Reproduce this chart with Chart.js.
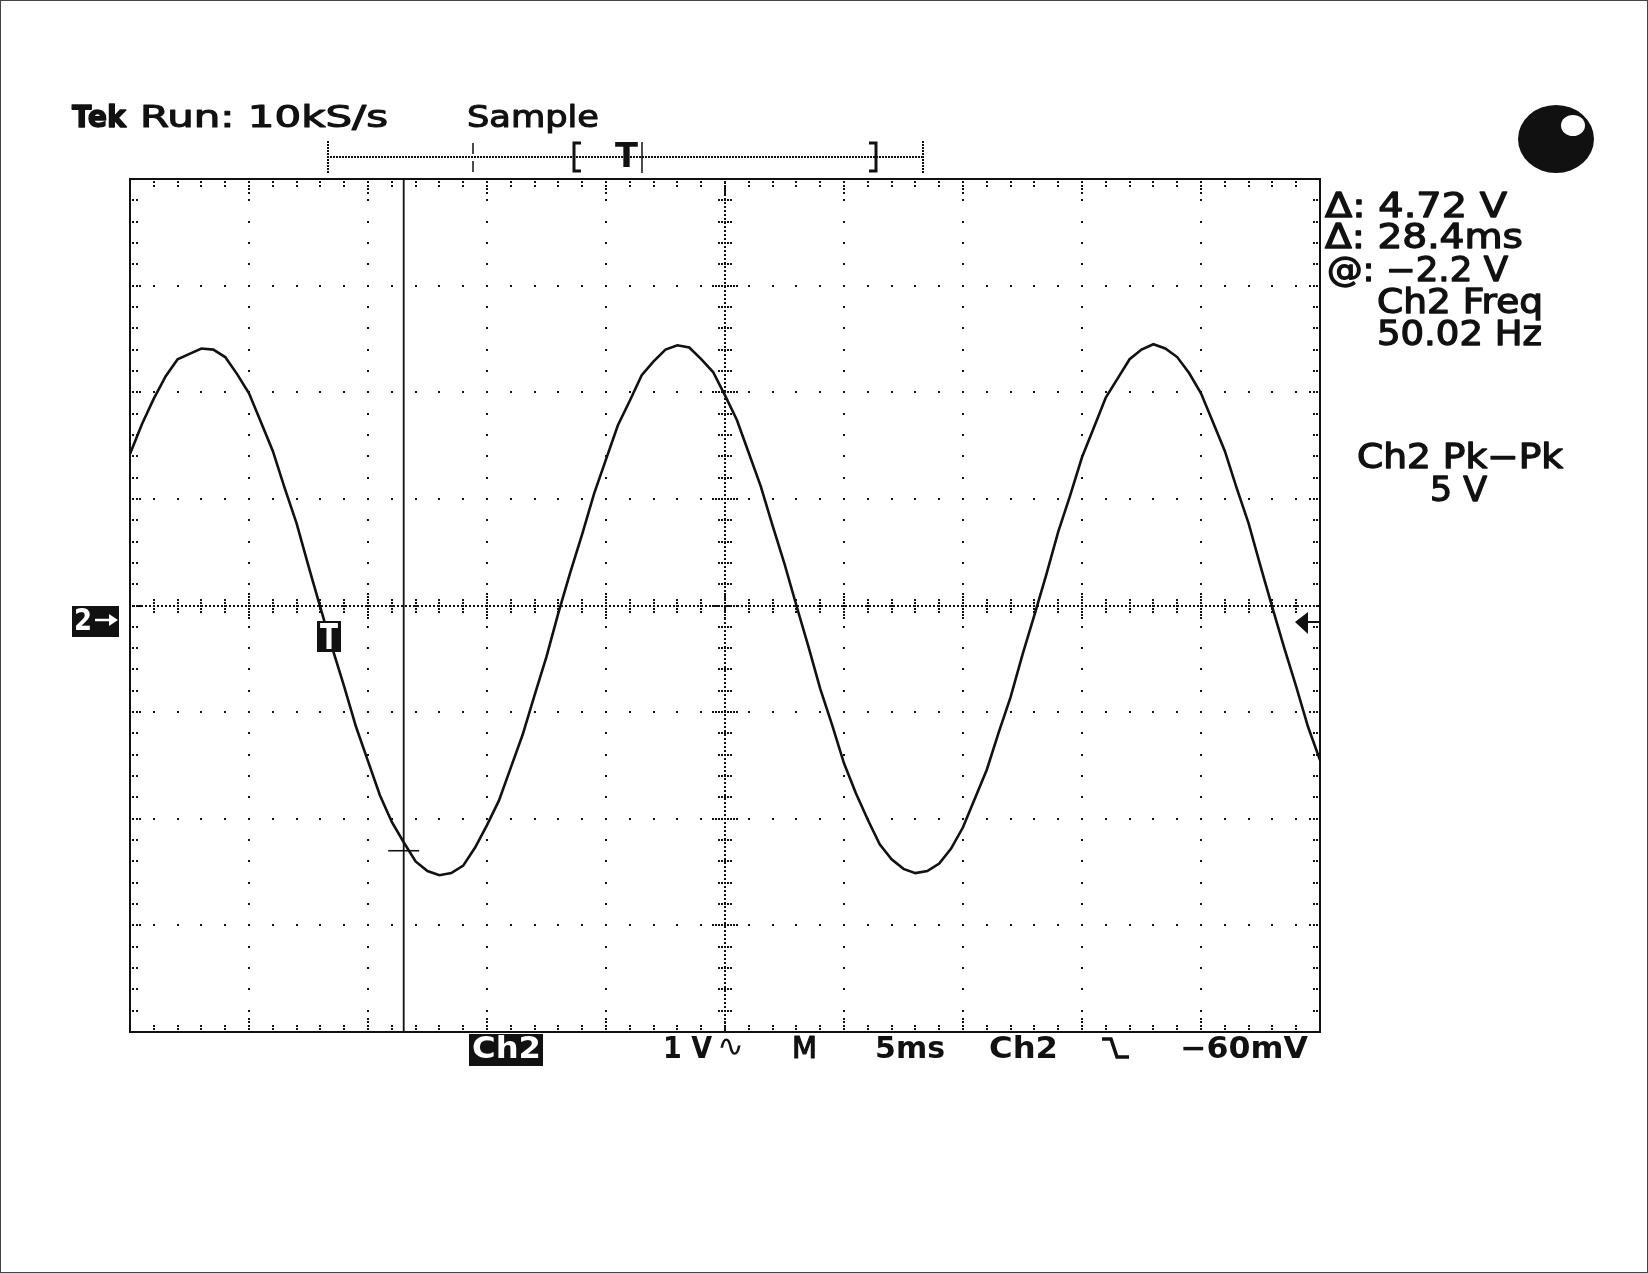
<!DOCTYPE html>
<html lang="en">
<head>
<meta charset="UTF-8">
<title>Tek Ch2 capture</title>
<script src="https://cdn.jsdelivr.net/npm/chart.js"></script>
<style>
  html, body { margin: 0; padding: 0; background: #fff; }
  canvas { display: block; }
</style>
</head>
<body>
<canvas id="scope" width="1648" height="1273"></canvas>
<script>
// sample times in ms (0.5 ms apart, 10 divisions of 5 ms)
var timeMs = [
  0, 0.5, 1, 1.5, 2, 2.5, 3, 3.5, 4, 4.5, 5, 5.5, 6, 6.5, 7, 7.5, 8, 8.5, 9, 9.5,
  10, 10.5, 11, 11.5, 12, 12.5, 13, 13.5, 14, 14.5, 15, 15.5, 16, 16.5, 17, 17.5, 18, 18.5, 19, 19.5,
  20, 20.5, 21, 21.5, 22, 22.5, 23, 23.5, 24, 24.5, 25, 25.5, 26, 26.5, 27, 27.5, 28, 28.5, 29, 29.5,
  30, 30.5, 31, 31.5, 32, 32.5, 33, 33.5, 34, 34.5, 35, 35.5, 36, 36.5, 37, 37.5, 38, 38.5, 39, 39.5,
  40, 40.5, 41, 41.5, 42, 42.5, 43, 43.5, 44, 44.5, 45, 45.5, 46, 46.5, 47, 47.5, 48, 48.5, 49, 49.5,
  50
];

// Ch2 volts
var ch2Volts = [
  1.42, 1.70, 1.94, 2.15, 2.31, 2.36, 2.41, 2.40, 2.33, 2.17, 1.99, 1.72, 1.45, 1.10, 0.77, 0.37, -0.02, -0.40, -0.76, -1.14,
  -1.46, -1.78, -2.03, -2.22, -2.40, -2.49, -2.53, -2.51, -2.44, -2.27, -2.06, -1.83, -1.52, -1.21, -0.84, -0.48, -0.07, 0.31, 0.67, 1.05,
  1.37, 1.69, 1.92, 2.16, 2.29, 2.40, 2.44, 2.42, 2.31, 2.19, 1.97, 1.74, 1.43, 1.12, 0.75, 0.39, 0.00, -0.38, -0.78, -1.12,
  -1.48, -1.76, -2.01, -2.24, -2.38, -2.47, -2.51, -2.49, -2.42, -2.28, -2.08, -1.81, -1.54, -1.19, -0.86, -0.46, -0.09, 0.29, 0.69, 1.03,
  1.39, 1.67, 1.95, 2.13, 2.31, 2.40, 2.45, 2.41, 2.33, 2.18, 1.99, 1.72, 1.45, 1.10, 0.77, 0.37, -0.02, -0.40, -0.76, -1.14,
  -1.45
];

// vertical cursor and its crossing mark
var cursorTimeMs = 11.5;
var cursorVolts = -2.3;
var cursorMarkMs = [10.85, 12.15];

// screen scale
var msPerDiv = 5;
var voltsPerDiv = 1;
var divsX = 10;
var divsY = 8;
var minorPerDiv = 5;

// readouts
var headerText = ['Tek', 'Run: 10kS/s', 'Sample'];
var readouts = ['Δ: 4.72 V', 'Δ: 28.4ms', '@: −2.2 V', 'Ch2 Freq', '50.02 Hz', 'Ch2 Pk−Pk', '5 V'];
var footer = ['Ch2', '1 V', '∿', 'M', '5ms', 'Ch2', '−60mV'];

var INK = '#111';

// draws text squeezed/stretched to span x0..x1; stroke thickens normal weight
function fitText(ctx, txt, x0, x1, base, size, weight, color, stroke) {
    ctx.save();
    ctx.font = weight + ' ' + size + 'px "DejaVu Sans", sans-serif';
    ctx.fillStyle = color || INK;
    ctx.strokeStyle = color || INK;
    ctx.textBaseline = 'alphabetic';
    var w = ctx.measureText(txt).width;
    ctx.translate(x0, base);
    ctx.scale((x1 - x0) / w, 1);
    ctx.fillText(txt, 0, 0);
    if (stroke) {
        ctx.lineWidth = stroke;
        ctx.lineJoin = 'round';
        ctx.strokeText(txt, 0, 0);
    }
    ctx.restore();
}

function dot(ctx, x, y) {
    ctx.fillRect(Math.round(x) - 1, Math.round(y) - 1, 2, 2);
}

// the dotted graticule, drawn from the chart's own scales
var graticule = {
    id: 'graticule',
    beforeDatasetsDraw: function(chart) {
        var ctx = chart.ctx;
        var xs = chart.scales.x, ys = chart.scales.y;
        var a = chart.chartArea;
        var tMax = divsX * msPerDiv, vMax = divsY / 2 * voltsPerDiv;
        var tStep = msPerDiv / minorPerDiv, vStep = voltsPerDiv / minorPerDiv;
        var tCenter = tMax / 2;
        ctx.save();
        ctx.fillStyle = INK;

        // interior major lines, one dot per minor step
        for (var i = 1; i < divsX; i++) {
            var t = i * msPerDiv;
            if (t === tCenter) continue;
            var px = xs.getPixelForValue(t);
            for (var j = 0; j <= divsY * minorPerDiv; j++) {
                dot(ctx, px, ys.getPixelForValue(-vMax + j * vStep));
            }
        }
        for (var i = 1; i < divsY; i++) {
            var v = -vMax + i * voltsPerDiv;
            if (v === 0) continue;
            var py = ys.getPixelForValue(v);
            for (var j = 0; j <= divsX * minorPerDiv; j++) {
                dot(ctx, xs.getPixelForValue(j * tStep), py);
            }
        }

        // centre cross: dense dots plus minor ticks
        var cy = ys.getPixelForValue(0), cx = xs.getPixelForValue(tCenter);
        for (var x = a.left; x <= a.right; x += 4) dot(ctx, x, cy);
        for (var y = a.top; y <= a.bottom; y += 4) dot(ctx, cx, y);
        for (var j = 0; j <= divsX * minorPerDiv; j++) {
            var px = xs.getPixelForValue(j * tStep);
            var len = (j % minorPerDiv === 0) ? 12 : 6;
            for (var d = -len; d <= len; d += 3) dot(ctx, px, cy + d);
        }
        for (var j = 0; j <= divsY * minorPerDiv; j++) {
            var py = ys.getPixelForValue(-vMax + j * vStep);
            var len = (j % minorPerDiv === 0) ? 12 : 6;
            for (var d = -len; d <= len; d += 3) dot(ctx, cx + d, py);
        }

        // ticks just inside the frame
        for (var j = 0; j <= divsX * minorPerDiv; j++) {
            var px = xs.getPixelForValue(j * tStep);
            var n = (j % minorPerDiv === 0) ? 4 : 2;
            for (var k = 0; k < n; k++) {
                dot(ctx, px, a.top + 3 + k * 3.5);
                dot(ctx, px, a.bottom - 3 - k * 3.5);
            }
        }
        for (var j = 0; j <= divsY * minorPerDiv; j++) {
            var py = ys.getPixelForValue(-vMax + j * vStep);
            var n = (j % minorPerDiv === 0) ? 3 : 2;
            for (var k = 0; k < n; k++) {
                dot(ctx, a.left + 3 + k * 3.5, py);
                dot(ctx, a.right - 3 - k * 3.5, py);
            }
        }

        ctx.lineWidth = 2;
        ctx.strokeStyle = INK;
        ctx.strokeRect(a.left, a.top, a.right - a.left, a.bottom - a.top);
        ctx.restore();
    }
};

// scope readouts and markers around the screen
var readoutLayer = {
    id: 'readouts',
    afterDraw: function(chart) {
        var ctx = chart.ctx;
        var W = chart.width, H = chart.height;
        ctx.save();

        // outer picture border
        ctx.strokeStyle = '#444';
        ctx.lineWidth = 1;
        ctx.strokeRect(0.5, 0.5, W - 1, H - 1);

        // header
        fitText(ctx, headerText[0], 72, 126, 127, 31, 'bold', INK, 1.4);
        fitText(ctx, headerText[1], 140, 388, 127, 30, 'normal', INK, 1.1);
        fitText(ctx, headerText[2], 467, 599, 127, 30, 'normal', INK, 1.1);

        // record position bar
        ctx.fillStyle = INK;
        for (var x = 328; x <= 923; x += 3) dot(ctx, x, 157);
        for (var y = 142; y <= 173; y += 3) { dot(ctx, 328, y); dot(ctx, 923, y); }
        ctx.strokeStyle = INK;
        ctx.lineWidth = 1.5;
        ctx.beginPath();
        ctx.moveTo(473, 143); ctx.lineTo(473, 154);
        ctx.moveTo(473, 161); ctx.lineTo(473, 172);
        ctx.moveTo(642, 142); ctx.lineTo(642, 173);
        ctx.stroke();
        ctx.lineWidth = 3;
        ctx.beginPath();
        ctx.moveTo(581, 143); ctx.lineTo(574, 143); ctx.lineTo(574, 171); ctx.lineTo(581, 171);
        ctx.moveTo(869, 143); ctx.lineTo(876, 143); ctx.lineTo(876, 171); ctx.lineTo(869, 171);
        ctx.stroke();
        fitText(ctx, 'T', 615, 638, 167, 33, 'bold');

        // scope logo
        ctx.fillStyle = INK;
        ctx.beginPath();
        ctx.ellipse(1556, 139, 38, 34, 0, 0, Math.PI * 2);
        ctx.fill();
        ctx.fillStyle = '#fff';
        ctx.beginPath();
        ctx.ellipse(1573, 125.5, 12, 10.5, 0, 0, Math.PI * 2);
        ctx.fill();

        // measurement readouts
        fitText(ctx, readouts[0], 1325, 1507, 217, 33, 'normal', INK, 1.3);
        fitText(ctx, readouts[1], 1325, 1523, 248, 33, 'normal', INK, 1.3);
        fitText(ctx, readouts[2], 1327, 1508, 281, 33, 'normal', INK, 1.3);
        fitText(ctx, readouts[3], 1377, 1543, 313, 33, 'normal', INK, 1.3);
        fitText(ctx, readouts[4], 1377, 1542, 345, 33, 'normal', INK, 1.3);
        fitText(ctx, readouts[5], 1357, 1563, 468, 33, 'normal', INK, 1.3);
        fitText(ctx, readouts[6], 1430, 1487, 501, 33, 'normal', INK, 1.3);

        // footer
        ctx.fillStyle = INK;
        ctx.fillRect(469, 1034, 74, 32);
        fitText(ctx, footer[0], 472, 541, 1058, 30, 'bold', '#fff');
        fitText(ctx, footer[1], 663, 712, 1058, 30, 'bold');
        fitText(ctx, footer[2], 717, 744, 1056, 30, 'normal');
        fitText(ctx, footer[3], 792, 817, 1058, 30, 'normal', INK, 1.2);
        fitText(ctx, footer[4], 875, 945, 1058, 30, 'bold');
        fitText(ctx, footer[5], 989, 1058, 1058, 30, 'bold');
        ctx.strokeStyle = INK;
        ctx.lineWidth = 3.5;
        ctx.beginPath();
        ctx.moveTo(1102, 1039); ctx.lineTo(1111, 1039); ctx.lineTo(1117, 1057); ctx.lineTo(1129, 1057);
        ctx.stroke();
        fitText(ctx, footer[6], 1180, 1308, 1058, 30, 'bold');

        // channel 2 ground marker
        ctx.fillStyle = INK;
        ctx.fillRect(72, 606, 47, 31);
        fitText(ctx, '2', 74, 92, 630, 31, 'bold', '#fff');
        ctx.strokeStyle = '#fff';
        ctx.lineWidth = 2.5;
        ctx.beginPath();
        ctx.moveTo(95, 620); ctx.lineTo(112, 620);
        ctx.stroke();
        ctx.fillStyle = '#fff';
        ctx.beginPath();
        ctx.moveTo(118, 620); ctx.lineTo(109, 614); ctx.lineTo(109, 626); ctx.closePath();
        ctx.fill();

        // trigger point marker
        ctx.fillStyle = INK;
        ctx.fillRect(317, 621, 24, 31);
        fitText(ctx, 'T', 320, 338, 649, 36, 'bold', '#fff');

        // trigger level arrow
        ctx.fillStyle = INK;
        ctx.beginPath();
        ctx.moveTo(1295, 622); ctx.lineTo(1308, 612); ctx.lineTo(1308, 634); ctx.closePath();
        ctx.fill();
        ctx.strokeStyle = INK;
        ctx.lineWidth = 2;
        ctx.beginPath();
        ctx.moveTo(1306, 622); ctx.lineTo(1320, 622);
        ctx.stroke();

        ctx.restore();
    }
};

var tracePoints = timeMs.map(function(t, i) { return { x: t, y: ch2Volts[i] }; });

var ctx = document.getElementById('scope').getContext('2d');
var scopeChart = new Chart(ctx, {
    type: 'line',
    data: {
        datasets: [{
            data: tracePoints,
            borderColor: INK,
            borderWidth: 2.6,
            pointRadius: 0,
            tension: 0,
            fill: false
        }, {
            data: [{ x: cursorTimeMs, y: -divsY / 2 * voltsPerDiv }, { x: cursorTimeMs, y: divsY / 2 * voltsPerDiv }],
            borderColor: INK,
            borderWidth: 1.8,
            pointRadius: 0
        }, {
            data: [{ x: cursorMarkMs[0], y: cursorVolts }, { x: cursorMarkMs[1], y: cursorVolts }],
            borderColor: INK,
            borderWidth: 1.6,
            pointRadius: 0
        }]
    },
    options: {
        responsive: false,
        animation: false,
        layout: { padding: { left: 130, right: 328, top: 179, bottom: 241 } },
        plugins: { legend: { display: false }, tooltip: { enabled: false } },
        scales: {
            x: { type: 'linear', min: 0, max: divsX * msPerDiv, display: false },
            y: { type: 'linear', min: -divsY / 2 * voltsPerDiv, max: divsY / 2 * voltsPerDiv, display: false }
        }
    },
    plugins: [graticule, readoutLayer]
});
</script>
</body>
</html>
